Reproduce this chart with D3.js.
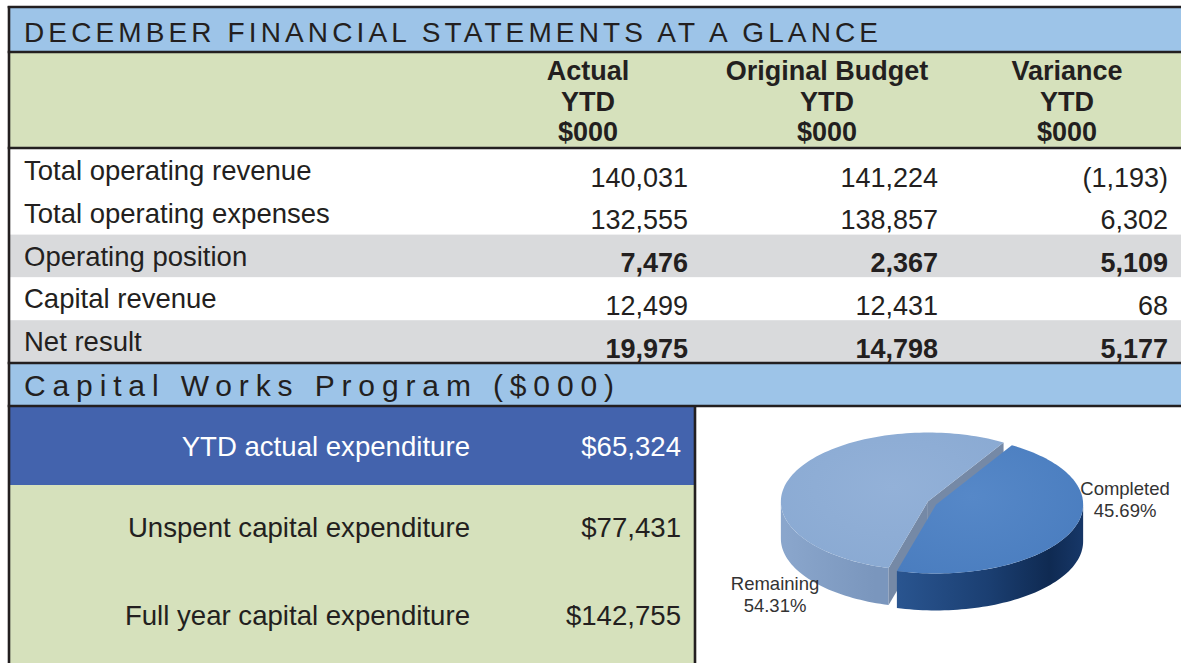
<!DOCTYPE html>
<html>
<head>
<meta charset="utf-8">
<script src="https://cdn.jsdelivr.net/npm/d3@7"></script>
<style>
  html, body { margin: 0; padding: 0; background: #fff; }
  svg { display: block; font-family: "Liberation Sans", Arial, Helvetica, sans-serif; }
</style>
</head>
<body>
<svg id="chart" width="1181" height="663"></svg>
<script>
// ---------------- DATA ----------------
const mainTitle = "DECEMBER FINANCIAL STATEMENTS AT A GLANCE";
const columnKeys = ["actual", "budget", "variance"];
const columnHeaders = [
  ["Actual", "YTD", "$000"],
  ["Original Budget", "YTD", "$000"],
  ["Variance", "YTD", "$000"]
];
const rowLabels = [
  "Total operating revenue",
  "Total operating expenses",
  "Operating position",
  "Capital revenue",
  "Net result"
];
const rowKinds = ["item", "item", "subtotal", "item", "subtotal"];
const actualYTD   = [140031, 132555, 7476, 12499, 19975];
const budgetYTD   = [141224, 138857, 2367, 12431, 14798];
const varianceYTD = [-1193, 6302, 5109, 68, 5177];

const capitalTitle = "Capital Works Program ($000)";
const capitalLabels = [
  "YTD actual expenditure",
  "Unspent capital expenditure",
  "Full year capital expenditure"
];
const capitalValues = [65324, 77431, 142755];

const pieLabels = ["Completed", "Remaining"];
const pieValues = [45.69, 54.31];

// ---------------- DRAW ----------------
const svg = d3.select("#chart");
const W = 1181, H = 663;
const ink = "#231f20";
const fmt = d3.format(",");
const fmtVar = v => v < 0 ? "(" + fmt(-v) + ")" : fmt(v);
const fmtMoney = v => "$" + fmt(v);

// backgrounds
svg.append("rect").attr("x", 0).attr("y", 0).attr("width", W).attr("height", H).attr("fill", "#fff");
svg.append("rect").attr("x", 9).attr("y", 7).attr("width", W - 9).attr("height", 45).attr("fill", "#9dc4e8");
svg.append("rect").attr("x", 9).attr("y", 52).attr("width", W - 9).attr("height", 96).attr("fill", "#d6e1bc");

// row scale
const yRow = d3.scaleBand().domain(rowLabels).range([149, 363]);
const xColRight = d3.scaleOrdinal().domain(columnKeys).range([688, 938, 1168]);
const xColCenter = d3.scaleOrdinal().domain(columnKeys).range([588, 827, 1067]);
const colData = { actual: actualYTD, budget: budgetYTD, variance: varianceYTD };

// row shading
svg.append("g").selectAll("rect")
  .data(rowLabels)
  .join("rect")
  .attr("x", 9).attr("width", W - 9)
  .attr("y", d => yRow(d)).attr("height", yRow.bandwidth())
  .attr("fill", (d, i) => rowKinds[i] === "subtotal" ? "#d9dadc" : "#fff");

// capital section backgrounds
svg.append("rect").attr("x", 9).attr("y", 363).attr("width", W - 9).attr("height", 43).attr("fill", "#9dc4e8");
svg.append("rect").attr("x", 9).attr("y", 406).attr("width", 686).attr("height", H - 406).attr("fill", "#d6e1bc");
svg.append("rect").attr("x", 9).attr("y", 407).attr("width", 686).attr("height", 78).attr("fill", "#4363ad");

// title
svg.append("text")
  .attr("x", 24).attr("y", 42)
  .attr("font-size", 28)
  .attr("fill", ink)
  .attr("textLength", 854)
  .attr("lengthAdjust", "spacing")
  .text(mainTitle);

// column headers
const hdr = svg.append("g").attr("font-weight", "bold").attr("font-size", 27).attr("fill", ink).attr("text-anchor", "middle");
columnKeys.forEach((k, ci) => {
  columnHeaders[ci].forEach((line, li) => {
    hdr.append("text")
      .attr("x", xColCenter(k))
      .attr("y", 80 + li * 30.5)
      .text(line);
  });
});

// row labels
svg.append("g").attr("font-size", 27.5).attr("fill", ink)
  .selectAll("text")
  .data(rowLabels)
  .join("text")
  .attr("x", 24)
  .attr("y", d => yRow(d) + 31)
  .text(d => d);

// values
columnKeys.forEach(k => {
  svg.append("g").attr("font-size", 27).attr("fill", ink).attr("text-anchor", "end")
    .selectAll("text")
    .data(colData[k])
    .join("text")
    .attr("x", xColRight(k))
    .attr("y", (d, i) => yRow(rowLabels[i]) + 37.5)
    .attr("font-weight", (d, i) => rowKinds[i] === "subtotal" ? "bold" : "normal")
    .text(d => k === "variance" ? fmtVar(d) : fmt(d));
});

// capital title
svg.append("text")
  .attr("x", 24).attr("y", 396)
  .attr("font-size", 30)
  .attr("fill", ink)
  .attr("textLength", 590)
  .attr("lengthAdjust", "spacing")
  .text(capitalTitle);

// capital rows
const yCap = d3.scaleOrdinal().domain(capitalLabels).range([446, 527, 615]);
const capG = svg.append("g").attr("font-size", 27.6);
capG.selectAll("text.lbl")
  .data(capitalLabels)
  .join("text")
  .attr("class", "lbl")
  .attr("x", 470).attr("y", d => yCap(d) + 10)
  .attr("text-anchor", "end")
  .attr("fill", (d, i) => i === 0 ? "#fff" : ink)
  .text(d => d);
capG.selectAll("text.val")
  .data(capitalValues)
  .join("text")
  .attr("class", "val")
  .attr("x", 681).attr("y", (d, i) => yCap(capitalLabels[i]) + 10)
  .attr("text-anchor", "end")
  .attr("fill", (d, i) => i === 0 ? "#fff" : ink)
  .text(d => fmtMoney(d));

// borders
const borders = svg.append("g").attr("stroke", ink).attr("stroke-width", 2.6).attr("fill", "none");
[7, 52, 148, 363, 406].forEach(y => {
  borders.append("line").attr("x1", 7.7).attr("x2", W).attr("y1", y).attr("y2", y);
});
borders.append("line").attr("x1", 9).attr("x2", 9).attr("y1", 6).attr("y2", H);
borders.append("line").attr("x1", 695).attr("x2", 695).attr("y1", 406).attr("y2", H);

// ---------------- 3D PIE ----------------
const cx = 932, cy = 503, rx = 147, ry = 69, depth = 37, explode = 4.5;
const startDeg = 31;
const pie = d3.pie().sort(null).startAngle(startDeg * Math.PI / 180).endAngle(startDeg * Math.PI / 180 + 2 * Math.PI);
const arcs = pie(pieValues);

const defs = svg.append("defs");
const gC = defs.append("linearGradient").attr("id", "wallC").attr("gradientUnits", "userSpaceOnUse")
  .attr("x1", 875).attr("x2", 1080).attr("y1", 0).attr("y2", 0);
gC.append("stop").attr("offset", 0).attr("stop-color", "#2d5a97");
gC.append("stop").attr("offset", 0.55).attr("stop-color", "#1b3f72");
gC.append("stop").attr("offset", 0.85).attr("stop-color", "#0f2a52");
gC.append("stop").attr("offset", 1).attr("stop-color", "#163666");
const gR = defs.append("linearGradient").attr("id", "wallR").attr("gradientUnits", "userSpaceOnUse")
  .attr("x1", 785).attr("x2", 875).attr("y1", 0).attr("y2", 0);
gR.append("stop").attr("offset", 0).attr("stop-color", "#8aa6cc");
gR.append("stop").attr("offset", 1).attr("stop-color", "#7a96bd");
const gTopC = defs.append("radialGradient").attr("id", "topC").attr("cx", "40%").attr("cy", "40%").attr("r", "70%");
gTopC.append("stop").attr("offset", 0).attr("stop-color", "#5688c8");
gTopC.append("stop").attr("offset", 1).attr("stop-color", "#4a7dbf");
const gTopR = defs.append("radialGradient").attr("id", "topR").attr("cx", "50%").attr("cy", "40%").attr("r", "70%");
gTopR.append("stop").attr("offset", 0).attr("stop-color", "#93b1d8");
gTopR.append("stop").attr("offset", 1).attr("stop-color", "#89a9d2");

const styles = {
  Completed: { top: "url(#topC)", wall: "url(#wallC)", face: "#27528c" },
  Remaining: { top: "url(#topR)", wall: "url(#wallR)", face: "#7589a6" }
};

function P(a, r, ox, oy, dz) {
  return [cx + ox + r * rx * Math.sin(a), cy + oy - r * ry * Math.cos(a) + dz];
}
function arcPts(a0, a1, ox, oy, dz) {
  const n = Math.max(2, Math.ceil(Math.abs(a1 - a0) / 0.03));
  return d3.range(n + 1).map(i => P(a0 + (a1 - a0) * i / n, 1, ox, oy, dz));
}
const line = d3.line();

// order: back slice (Remaining) first, then front (Completed)
const order = [1, 0];
const pieG = svg.append("g");
order.forEach(idx => {
  const a = arcs[idx];
  const name = pieLabels[idx];
  const st = styles[name];
  const mid = (a.startAngle + a.endAngle) / 2;
  const ox = explode * Math.sin(mid);
  const oy = -explode * Math.cos(mid) * 0.8;
  const g = pieG.append("g");

  // outer wall, visible on the front half
  const ranges = [];
  [[a.startAngle, a.endAngle], [a.startAngle - 2 * Math.PI, a.endAngle - 2 * Math.PI]].forEach(([s, e]) => {
    const l = Math.max(s, Math.PI / 2), h = Math.min(e, 3 * Math.PI / 2);
    if (h > l) ranges.push([l, h]);
  });
  ranges.forEach(([l, h]) => {
    const topP = arcPts(l, h, ox, oy, 0);
    const botP = arcPts(h, l, ox, oy, depth);
    g.append("path").attr("d", line(topP.concat(botP)) + "Z").attr("fill", st.wall);
  });

  // radial faces (visible for the back slice)
  if (name === "Remaining") {
    [a.startAngle, a.endAngle].forEach(ang => {
      const c0 = [cx + ox, cy + oy], c1 = [cx + ox, cy + oy + depth];
      const e0 = P(ang, 1, ox, oy, 0), e1 = P(ang, 1, ox, oy, depth);
      g.append("path").attr("d", line([c0, e0, e1, c1]) + "Z").attr("fill", st.face);
    });
  }

  // top face
  const topPts = [[cx + ox, cy + oy]].concat(arcPts(a.startAngle, a.endAngle, ox, oy, 0));
  g.append("path").attr("d", line(topPts) + "Z").attr("fill", st.top);
});

// pie labels
const pieLabelPos = { Completed: [1125, 495], Remaining: [775, 590] };
const pl = svg.append("g").attr("font-size", 18.5).attr("fill", "#333").attr("text-anchor", "middle");
pieLabels.forEach((name, i) => {
  const [x, y] = pieLabelPos[name];
  pl.append("text").attr("x", x).attr("y", y).text(name);
  pl.append("text").attr("x", x).attr("y", y + 22).text(d3.format(".2f")(pieValues[i]) + "%");
});
</script>
</body>
</html>
